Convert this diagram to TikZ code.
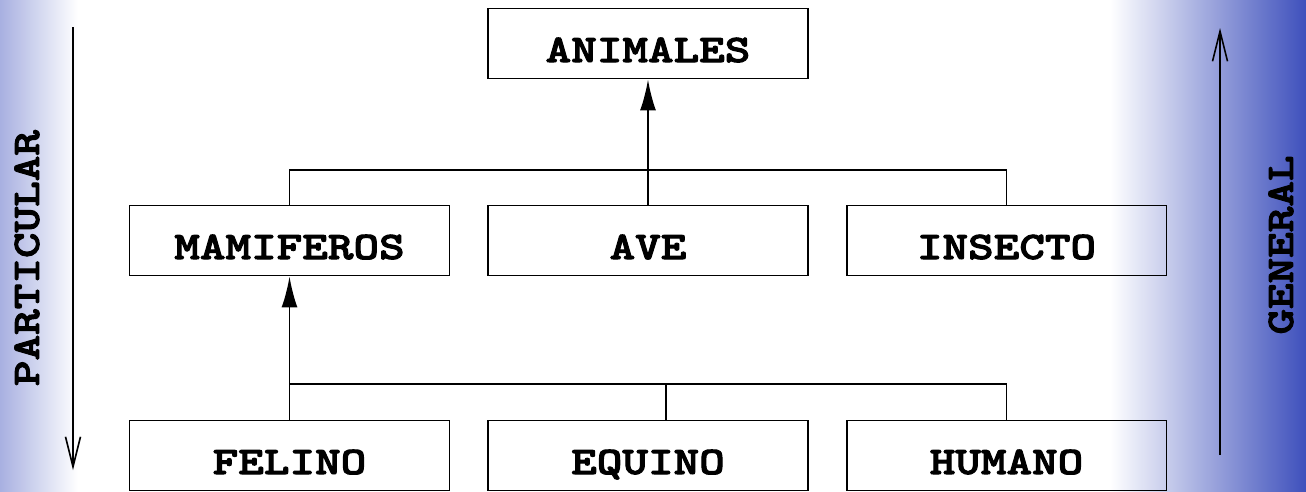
\documentclass[tikz,border=0pt]{standalone}
\usepackage{fontspec}
\newfontfamily\boxfont{lmmonolt10-bold.otf}[FakeStretch=1.25, FakeBold=2.6]
\usetikzlibrary{arrows.meta, positioning}
\definecolor{edgeblue}{RGB}{62,80,188}
\newcommand{\headArrow}{{Latex[length=0.62cm, width=0.32cm]}}
\newcommand{\sideArrow}{{Straight Barb[length=0.6cm, width=0.3cm]}}

\begin{document}
\begin{tikzpicture}[x=0.02cm, y=-0.02cm, font=\boxfont\fontsize{22.2}{26}\selectfont,
	box/.style={draw, line width=1.1pt, minimum width=6.4cm, minimum height=1.4cm, inner sep=0pt,
		text height=0.74cm, text depth=0pt},
	link/.style={line width=1.1pt},
	side/.style={line width=0.9pt}]
	\def\W{1306}
	\def\H{491}
	\useasboundingbox (0,0) rectangle (\W,\H);
	
	% background
	\shade[left color=edgeblue!45, right color=white]	(0,0) rectangle (78,\H);
	\shade[left color=white, right color=edgeblue]		(1110,0) rectangle (\W,\H);
	
	\node[box] (animales)	at (648,43.5)	{ANIMALES};
	
	\node[box] (mamiferos)	at (289.5,240.5)	{MAMIFEROS};
	\node[box] (ave)		at (648,240.5)		{AVE};
	\node[box] (insecto)	at (1006.5,240.5)	{INSECTO};
	
	\node[box] (felino)		at (289.5,455.5)	{FELINO};
	\node[box] (equino)		at (648,455.5)		{EQUINO};
	\node[box] (humano)		at (1006.5,455.5)	{HUMANO};
	
	\coordinate (jtop) at (648,170);
	\coordinate (jbot) at (666,384);
	
	\draw[link]	(mamiferos.north) |- (jtop) -| (insecto.north);
	\draw[link, -\headArrow]	(ave.north) -- (animales.south);
	
	\draw[link]	(felino.north) |- (jbot) -| (humano.north);
	\draw[link]	(jbot) -- (jbot |- equino.north);
	\draw[link, -\headArrow]	(felino.north) -- (mamiferos.south);
	
	% side scale
	\coordinate (ptop) at (73,27);
	\coordinate (pbot) at (73,470);
	\coordinate (gbot) at (1220,455);
	\coordinate (gtop) at (1220,28);
	\draw[side, -\sideArrow]	(ptop) -- (pbot);
	\draw[side, -\sideArrow]	(gbot) -- (gtop);
	
	\node[rotate=90] (particular)	at (27,258)		{PARTICULAR};
	\node[rotate=90] (general)		at (1281,245)	{GENERAL};
\end{tikzpicture}
\end{document}
